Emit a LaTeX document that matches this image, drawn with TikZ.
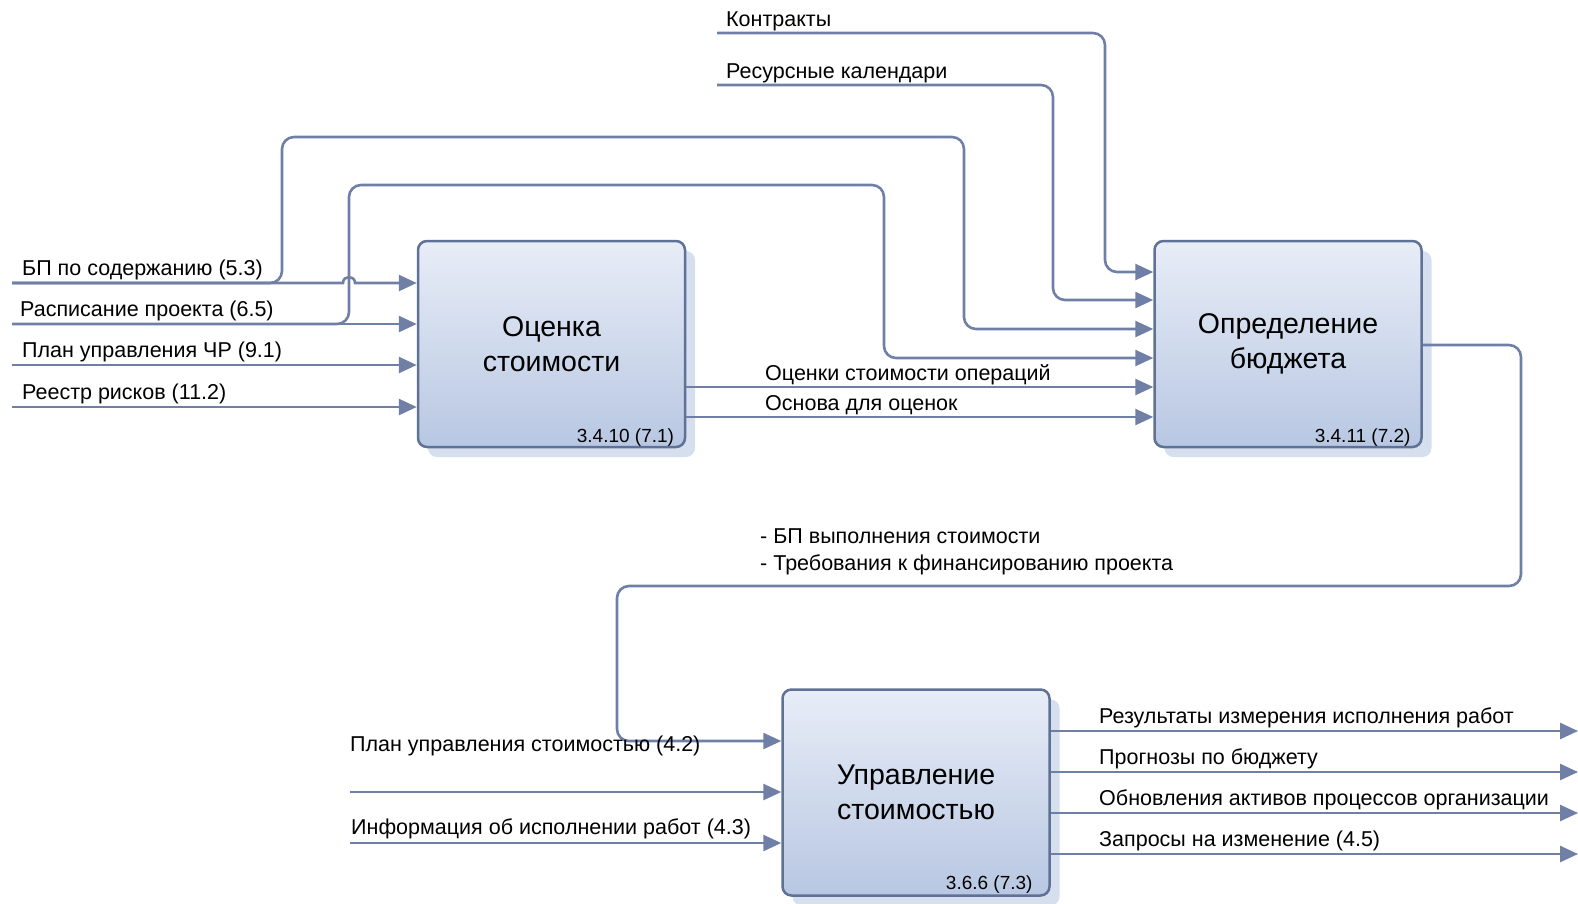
\documentclass[tikz,border=0pt]{standalone}
\usepackage{fontspec}
\setmainfont{Liberation Sans}
\usetikzlibrary{arrows.meta,shadows}
\definecolor{linec}{RGB}{111,127,166}
\definecolor{boxedge}{RGB}{96,113,152}
\definecolor{boxtop}{RGB}{232,237,247}
\definecolor{boxbot}{RGB}{184,199,226}
\definecolor{shadowc}{RGB}{214,223,238}
\begin{document}
\begin{tikzpicture}[x=1pt,y=-1pt,
  process/.style={draw=boxedge, line width=2.5pt, rounded corners=9pt,
    top color=boxtop, bottom color=boxbot,
    minimum width=267pt, minimum height=206pt, inner sep=0pt,
    align=center, font=\fontsize{28.5}{34.5}\selectfont,
    drop shadow={shadow xshift=10pt, shadow yshift=-10pt, fill=shadowc, opacity=1, draw=none}},
  flow/.style={draw=linec, line width=2.6pt, rounded corners=12pt},
  arr/.style={flow, -{Triangle[length=18pt,width=16pt]}},
  lbl/.style={anchor=base west, inner sep=0pt, font=\fontsize{21.5}{25}\selectfont},
  num/.style={anchor=base east, inner sep=0pt, font=\fontsize{19}{23}\selectfont}
]
\useasboundingbox (0,0) rectangle (1578,903);

% process boxes
\node[process] (est) at (551.5,344)  {Оценка\\стоимости};
\node[process] (bud) at (1288,344)   {Определение\\бюджета};
\node[process] (ctl) at (916,792.5)  {Управление\\стоимостью};

\node[num] (n-est) at ([xshift=-12pt,yshift=6pt]est.south east) {3.4.10 (7.1)};
\node[num] (n-bud) at ([xshift=-12pt,yshift=6pt]bud.south east) {3.4.11 (7.2)};
\node[num] (n-ctl) at ([xshift=-18pt,yshift=7pt]ctl.south east) {3.6.6 (7.3)};

% free ends
\coordinate (scope)  at (12,283);
\coordinate (sched)  at (12,324);
\coordinate (hr)     at (12,365);
\coordinate (risk)   at (12,407);
\coordinate (contr)  at (717,33);
\coordinate (rescal) at (717,85);
\coordinate (pcm)    at (350,792);
\coordinate (perf)   at (350,843);
\coordinate (o1)     at (1578,731);
\coordinate (o2)     at (1578,772);
\coordinate (o3)     at (1578,813);
\coordinate (o4)     at (1578,854);

% inputs of the estimating process (with a hop over the crossing)
\draw[arr, sharp corners] (scope) -- (343,283) .. controls (343,275) and (355,275) .. (355,283) -- (est.west |- scope);
\draw[arr] (sched) -- (est.west |- sched);
\draw[arr] (hr)    -- (est.west |- hr);
\draw[arr] (risk)  -- (est.west |- risk);

% inputs of the budgeting process
\draw[arr] (contr)  -- (1105,33) -- (1105,272) -- (bud.west |- 0,272);
\draw[arr] (rescal) -- (1053,85) -- (1053,300) -- (bud.west |- 0,300);
\draw[arr] (scope) -- (282,283) -- (282,137) -- (964,137) -- (964,329) -- (bud.west |- 0,329);
\draw[arr] (sched) -- (349,324) -- (349,185) -- (884,185) -- (884,358) -- (bud.west |- 0,358);
\draw[arr] (est.east |- 0,387) -- (bud.west |- 0,387);
\draw[arr] (est.east |- 0,417) -- (bud.west |- 0,417);

% budget to cost control
\draw[arr] (bud.east |- 0,345) -- (1521,345) -- (1521,586) -- (617,586) -- (617,741) -- (ctl.west |- 0,741);
\draw[arr] (pcm)  -- (ctl.west |- pcm);
\draw[arr] (perf) -- (ctl.west |- perf);

% outputs of cost control
\draw[arr] (ctl.east |- o1) -- (o1);
\draw[arr] (ctl.east |- o2) -- (o2);
\draw[arr] (ctl.east |- o3) -- (o3);
\draw[arr] (ctl.east |- o4) -- (o4);

% labels
\node[lbl] (t-contr)  at (726,26)  {Контракты};
\node[lbl] (t-rescal) at (726,78)  {Ресурсные календари};
\node[lbl] (t-scope)  at (22,275)  {БП по содержанию (5.3)};
\node[lbl] (t-sched)  at (20,316)  {Расписание проекта (6.5)};
\node[lbl] (t-hr)     at (22,357)  {План управления ЧР (9.1)};
\node[lbl] (t-risk)   at (22,399)  {Реестр рисков (11.2)};
\node[lbl] (t-ops)    at (765,380) {Оценки стоимости операций};
\node[lbl] (t-basis)  at (765,410) {Основа для оценок};
\node[lbl] (t-base1)  at (760,543) {- БП выполнения стоимости};
\node[lbl] (t-base2)  at (760,570) {- Требования к финансированию проекта};
\node[lbl] (t-pcm)    at (350,751) {План управления стоимостью (4.2)};
\node[lbl] (t-perf)   at (351,834) {Информация об исполнении работ (4.3)};
\node[lbl] (t-o1)     at (1099,723) {Результаты измерения исполнения работ};
\node[lbl] (t-o2)     at (1099,764) {Прогнозы по бюджету};
\node[lbl] (t-o3)     at (1099,805) {Обновления активов процессов организации};
\node[lbl] (t-o4)     at (1099,846) {Запросы на изменение (4.5)};
\end{tikzpicture}
\end{document}
